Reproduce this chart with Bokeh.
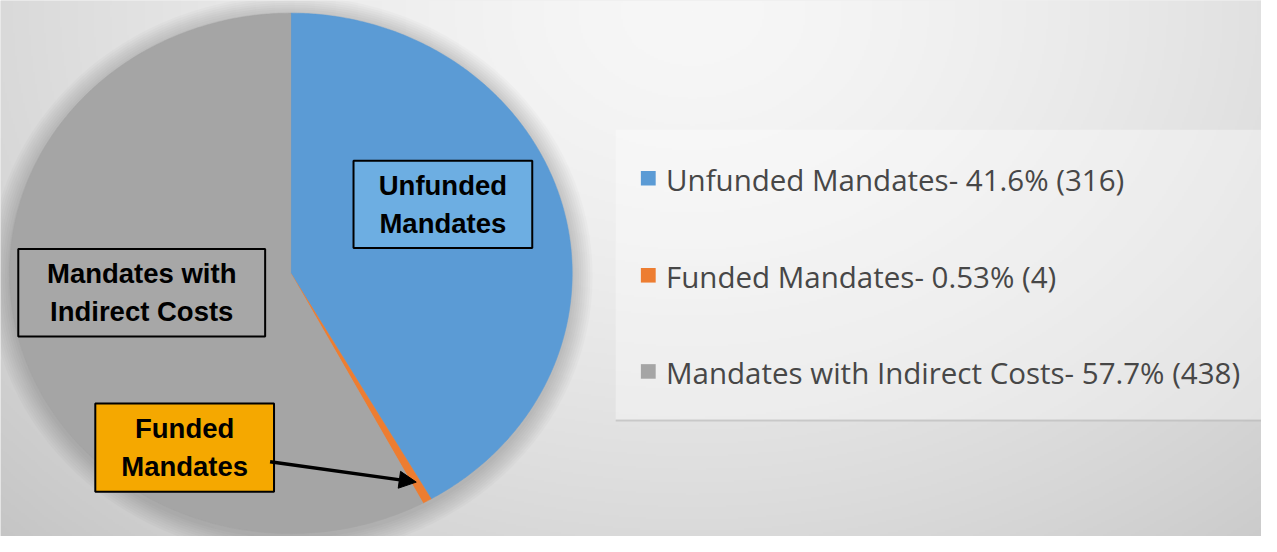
import numpy as np
from bokeh.plotting import figure
from bokeh.models import Range1d, ColumnDataSource, Arrow, NormalHead
from bokeh.core.properties import value
from bokeh.embed import file_html
from bokeh.resources import INLINE

# ---------------- data ----------------
categories = ["Unfunded Mandates", "Funded Mandates", "Mandates with Indirect Costs"]
counts = [316, 4, 438]
percent_labels = ["41.6%", "0.53%", "57.7%"]
slice_colors = ["#5b9bd5", "#ed7d31", "#a5a5a5"]

callout_texts = ["Unfunded\nMandates", "Mandates with\nIndirect Costs", "Funded\nMandates"]
callout_fills = ["#6daee2", "#a7a7a7", "#f5a800"]

# ---------------- layout (data space = reference picture space) ----------------
W, H = 1261, 536           # figure size in px
DW, DH = 1277, 552         # data extent
CX, CY = 294, 281          # pie centre
RX, RY = 285, 268          # pie radii

p = figure(width=W, height=H, output_backend="svg", toolbar_location=None,
           x_range=Range1d(0, DW), y_range=Range1d(DH, 0),
           x_axis_type=None, y_axis_type=None, min_border=0)
p.grid.visible = False
p.outline_line_color = None
p.background_fill_color = "#e0e0e0"
p.border_fill_color = "#e0e0e0"

# background gradient (decoration)
xs = np.arange(0, DW, 2, dtype=float)
ys = np.arange(0, DH, 2, dtype=float)
gx, gy = np.meshgrid(xs, ys)
d = np.sqrt(((gx - 700) / 720.0) ** 2 + ((gy - 10) / 560.0) ** 2)
v = np.clip(247 - 31 * d ** 1.5, 190, 250).astype(np.uint32)
img = (255 << 24) | (v << 16) | (v << 8) | v
p.image_rgba(image=[img.astype(np.uint32)], x=0, y=0, dw=DW, dh=DH)

# legend panel
p.quad(left=[623], right=[DW + 5], top=[133], bottom=[432],
       fill_color="white", fill_alpha=0.35, line_color=None)
p.segment(x0=[623], y0=[432.5], x1=[DW + 5], y1=[432.5],
          line_color="#b8b8b8", line_alpha=0.6, line_width=2)

# soft shadow around pie
for i in range(1, 10):
    p.ellipse(x=[CX], y=[CY + 3], width=[2 * (RX + i * 2.3)], height=[2 * (RY + i * 2.3)],
              fill_color="black", fill_alpha=0.018, line_color=None)

# pie slices (clockwise from 12 o'clock)
total = float(sum(counts))
fracs = np.array(counts) / total
ends = np.cumsum(fracs) * 2 * np.pi
starts = np.concatenate([[0.0], ends[:-1]])
pxs, pys = [], []
for s, e in zip(starts, ends):
    n = max(4, int((e - s) / (2 * np.pi) * 720))
    th = np.linspace(s, e, n)
    pxs.append(np.concatenate([[CX], CX + RX * np.sin(th)]).tolist())
    pys.append(np.concatenate([[CY], CY - RY * np.cos(th)]).tolist())
p.patches(xs=pxs, ys=pys, fill_color=slice_colors, line_color=slice_colors, line_width=0.5)

# callout boxes
box_cx = [448, 143, 186.5]
box_cy = [210, 301, 460.5]
box_w = [181, 250, 181]
box_h = [90, 90, 91]
src = ColumnDataSource(dict(x=box_cx, y=box_cy, w=box_w, h=box_h, fill=callout_fills, t=callout_texts))
p.rect(x="x", y="y", width="w", height="h", fill_color="fill", line_color="black",
       line_width=2, source=src)
p.text(x="x", y="y", text="t", source=src, text_align="center", text_baseline="middle",
       text_font=value("Liberation Sans"), text_font_style="bold", text_font_size="27.5px",
       text_line_height=1.22, text_color="black")

# arrow to the tiny funded slice
p.add_layout(Arrow(end=NormalHead(size=17, fill_color="black", line_color="black"),
                   x_start=273, y_start=475, x_end=421, y_end=496,
                   line_width=3.5, line_color="black"))

# legend
leg_y = [183, 283, 382]
leg_labels = [f"{c}- {pc} ({n})" for c, pc, n in zip(categories, percent_labels, counts)]
p.rect(x=[656] * 3, y=leg_y, width=15, height=15, fill_color=slice_colors, line_color=None)
p.text(x=[674] * 3, y=[yy + 1 for yy in leg_y], text=leg_labels, text_align="left",
       text_baseline="middle", text_font=value("Open Sans"), text_font_size="29.5px",
       text_color="#474747")

open("out.html", "w").write(file_html(p, INLINE))
